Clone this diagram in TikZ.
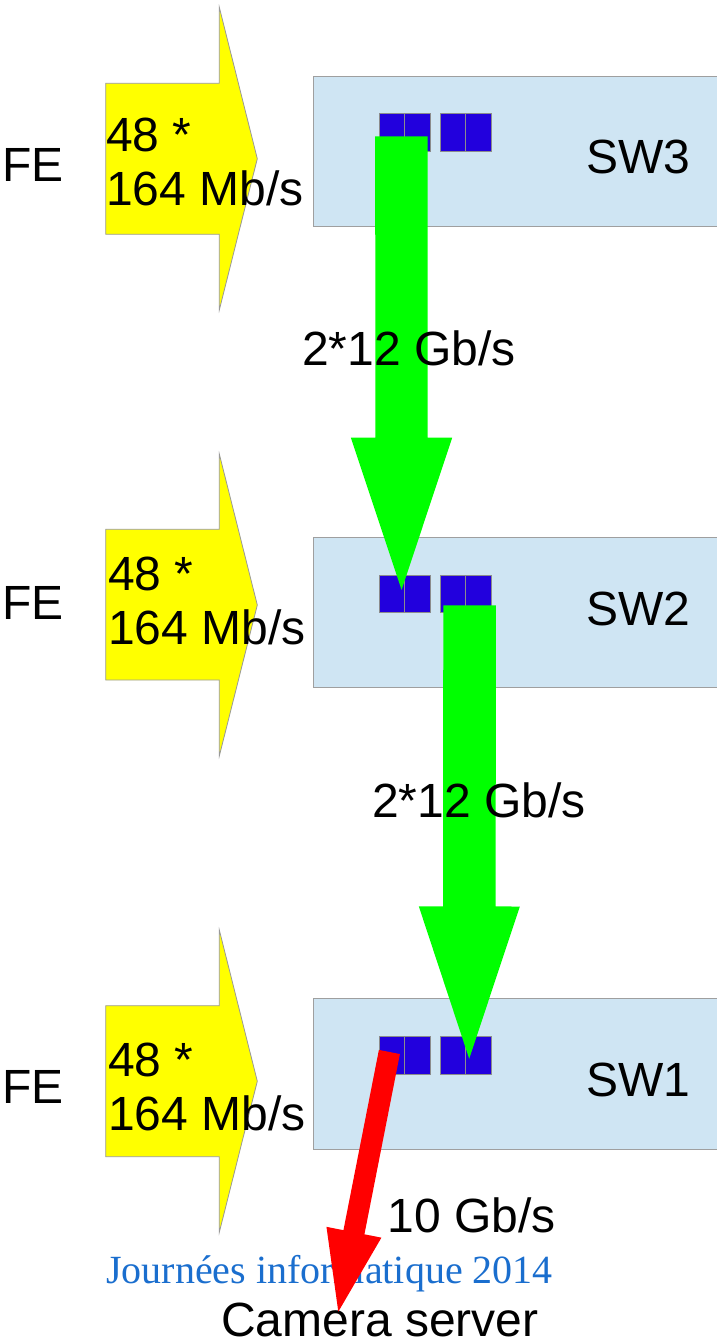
\documentclass[tikz,border=0pt]{standalone}
\usepackage{fontspec}
\setmainfont{Liberation Sans}
\newfontfamily\serifji{Liberation Serif}
\usetikzlibrary{calc}
\definecolor{swfill}{RGB}{207,229,243}
\definecolor{portblue}{RGB}{34,0,221}
\definecolor{jiblue}{RGB}{26,110,206}
\definecolor{feyellow}{RGB}{255,255,0}
% fat arrow: style, from, to, half shaft, half head, head length
\newcommand{\fatarrow}[6]{%
  \path ($(#3)!#6!(#2)$) coordinate (hb);
  \fill[#1] ($(#2)!#4!90:(#3)$) -- ($(hb)!#4!90:(#3)$) -- ($(hb)!#5!90:(#3)$) -- (#3)
    -- ($(hb)!#5!-90:(#3)$) -- ($(hb)!#4!-90:(#3)$) -- ($(#2)!#4!-90:(#3)$) -- cycle;
}
\tikzset{
  big/.style={font=\fontsize{48}{53.5}\selectfont,inner sep=0pt},
  feflow/.style={draw=gray!80,fill=feyellow,line width=0.8pt},
  swbox/.style={draw=gray!75,fill=swfill,line width=0.9pt,minimum width=406pt,minimum height=150.4pt,inner sep=0pt,anchor=north west},
  port/.style={draw=gray!90,fill=portblue,line width=0.9pt,minimum width=25.5pt,minimum height=37.6pt,inner sep=0pt,anchor=north west},
}
\begin{document}
\begin{tikzpicture}[x=1pt,y=-1pt]
\useasboundingbox (0,0) rectangle (716,1343);
% FE inputs
\draw[feflow] (105.7,83.3) -- (219.3,83.3) -- (219.3,7.3) -- (257.3,158.7) -- (219.3,310) -- (219.3,234.3) -- (105.7,234.3) -- cycle;
\draw[feflow] (105.7,529.3) -- (219.3,529.3) -- (219.3,454) -- (257.3,605) -- (219.3,756) -- (219.3,680) -- (105.7,680) -- cycle;
\draw[feflow] (105.7,1005.7) -- (219.3,1005.7) -- (219.3,930) -- (257.3,1081.2) -- (219.3,1232.3) -- (219.3,1156.7) -- (105.7,1156.7) -- cycle;
\node[big,anchor=base west] (fe3) at (2,181.7) {FE};
\node[big,anchor=base west] (fe2) at (2,619.5) {FE};
\node[big,anchor=base west] (fe1) at (2,1103.5) {FE};
% base = last line
\node[big,anchor=base west,align=left] (rate3) at (106,205) {48 *\\164 Mb/s};
\node[big,anchor=base west,align=left] (rate2) at (108,644) {48 *\\164 Mb/s};
\node[big,anchor=base west,align=left] (rate1) at (108,1130) {48 *\\164 Mb/s};
% switches
\node[swbox] (sw3) at (312.7,75.7) {};
\node[swbox] (sw2) at (312.7,536.7) {};
\node[swbox] (sw1) at (312.7,998.3) {};
\node[big,anchor=base west] (sw3name) at (585.8,173.3) {SW3};
\node[big,anchor=base west] (sw2name) at (586,625.7) {SW2};
\node[big,anchor=base west] (sw1name) at (586,1096.7) {SW1};
\node[port] (sw3p1) at (378.7,113.3) {};
\node[port] (sw3p2) at (404.2,113.3) {};
\node[port] (sw3p3) at (439.5,113.3) {};
\node[port] (sw3p4) at (465,113.3) {};
\node[port] (sw2p1) at (378.7,574.7) {};
\node[port] (sw2p2) at (404.2,574.7) {};
\node[port] (sw2p3) at (439.5,574.7) {};
\node[port] (sw2p4) at (465,574.7) {};
\node[port] (sw1p1) at (378.7,1036) {};
\node[port] (sw1p2) at (404.2,1036) {};
\node[port] (sw1p3) at (439.5,1036) {};
\node[port] (sw1p4) at (465,1036) {};
% uplinks
\fatarrow{green}{$(sw3p1.east)+(-3.7,3.8)$}{$(sw2p1.east)+(-3.5,-4.1)$}{26.2pt}{50.7pt}{152.3pt}
\fatarrow{green}{$(sw2p3.east)+(3.7,11.5)$}{$(sw1p3.east)+(3.3,3.5)$}{26.3pt}{50.5pt}{152.3pt}
\node[big,anchor=base west] (up32) at (302,365) {2*12 Gb/s};
\node[big,anchor=base west] (up21) at (372,817.3) {2*12 Gb/s};
% to camera server
\node[big,anchor=base west] (out) at (387.5,1232.7) {10 Gb/s};
\node[font=\serifji\fontsize{40}{44}\selectfont,text=jiblue,inner sep=0pt,anchor=base west] (ji) at (106,1283.3) {Journées informatique 2014};
\node[big,anchor=base west] (cam) at (221,1336) {Camera server};
\coordinate (camtip) at (338.3,1311.7);
\fatarrow{red}{$(sw1p1.center)+(-2.5,-3.3)$}{camtip}{10.7pt}{28pt}{81pt}
\end{tikzpicture}
\end{document}
